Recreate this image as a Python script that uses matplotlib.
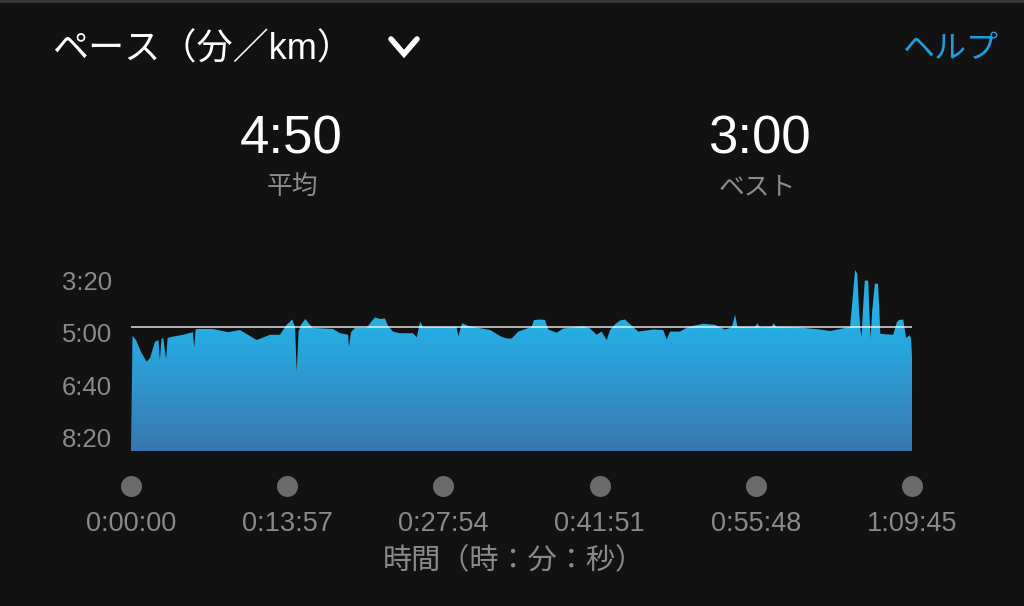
import numpy as np
import matplotlib
matplotlib.use("Agg")
import matplotlib.pyplot as plt
from matplotlib.colors import LinearSegmentedColormap
from matplotlib.patches import Polygon
from matplotlib.lines import Line2D

plt.rcParams['font.family'] = ['Liberation Sans', 'Noto Sans CJK JP']

# elapsed time (s) and pace (s per km)
time_s = [0, 8, 27, 54, 84, 102, 129, 147, 155, 163, 173, 188, 196, 218, 279,
          332, 339, 346, 352, 439, 520, 584, 674, 745, 798, 834, 864, 879, 888,
          898, 911, 934, 959, 975, 1082, 1120, 1163, 1168, 1179, 1200, 1263,
          1281, 1307, 1334, 1361, 1377, 1404, 1441, 1511, 1531, 1549, 1565,
          1656, 1745, 1754, 1774, 1806, 1924, 1986, 2015, 2040, 2075, 2147,
          2159, 2192, 2218, 2236, 2281, 2317, 2424, 2460, 2495, 2522, 2549,
          2567, 2594, 2620, 2647, 2674, 2718, 2799, 2852, 2871, 2888, 2942,
          2986, 3067, 3129, 3183, 3219, 3237, 3250, 3344, 3356, 3370, 3433,
          3442, 3460, 3576, 3692, 3746, 3853, 3866, 3880, 3892, 3901, 3909,
          3915, 3922, 3932, 3950, 3956, 3963, 3972, 3986, 4003, 4010, 4015,
          4039, 4084, 4104, 4115, 4138, 4153, 4174, 4180, 4185]
pace_s = [520, 306, 314, 337, 355, 348, 317, 314, 352, 312, 310, 350, 310, 308,
          304, 299, 329, 295, 293, 293, 299, 295, 314, 304, 304, 285, 275, 289,
          374, 298, 285, 274, 285, 291, 293, 301, 304, 327, 299, 291, 291, 282,
          271, 274, 273, 287, 298, 301, 301, 309, 279, 289, 289, 289, 307, 282,
          287, 295, 308, 311, 311, 298, 289, 276, 275, 276, 294, 300, 292, 288,
          292, 304, 298, 314, 295, 284, 277, 275, 284, 298, 294, 295, 313, 298,
          298, 289, 283, 285, 294, 290, 266, 289, 289, 282, 290, 289, 282, 289,
          290, 294, 297, 289, 238, 181, 188, 257, 295, 308, 257, 201, 201, 257,
          311, 257, 207, 207, 257, 302, 303, 304, 280, 276, 275, 310, 305, 311,
          345]

avg_pace = 290
best_pace = 180
y_ticks = [200, 300, 400, 500]
x_ticks = [0, 837, 1674, 2511, 3348, 4185]


def fmt_pace(s):
    return f"{int(s) // 60}:{int(s) % 60:02d}"


def fmt_time(s):
    return f"{s // 3600}:{s % 3600 // 60:02d}:{s % 60:02d}"


BG = "#121212"
W, H = 1024, 606
fig = plt.figure(figsize=(W / 100, H / 100), dpi=100, facecolor=BG)


def fx(px):
    return px / W


def fy(py):
    return 1 - py / H


ax = fig.add_axes([fx(131), fy(451), fx(912) - fx(131), fy(260) - fy(451)])
ax.set_facecolor(BG)
y_bottom = 524.7
y_top = 162

# gradient fill clipped to the pace profile
verts = [(time_s[0], y_bottom)] + list(zip(time_s, pace_s)) + [(time_s[-1], y_bottom)]
poly = Polygon(verts, closed=True, facecolor='none', edgecolor='none')
ax.add_patch(poly)
cmap = LinearSegmentedColormap.from_list('pace', ['#3977b1', '#26ade3'])
yy = np.linspace(y_bottom, y_top, 300)
grad = np.clip((y_bottom - yy) / (y_bottom - 295), 0, 1).reshape(-1, 1)
im = ax.imshow(grad, cmap=cmap, vmin=0, vmax=1, aspect='auto', origin='lower',
               extent=[0, x_ticks[-1], y_bottom, y_top], interpolation='bilinear')
im.set_clip_path(poly)

ax.axhline(avg_pace, color='white', alpha=0.8, lw=1.2, zorder=3)

ax.set_xlim(0, x_ticks[-1])
ax.set_ylim(y_bottom, y_top)

for s in ax.spines.values():
    s.set_visible(False)

ax.set_yticks(y_ticks, [fmt_pace(v) for v in y_ticks])
ax.tick_params(axis='y', length=0, pad=13.5, labelsize=18.5, labelcolor='#8a8a8a')
ax.set_xticks(x_ticks, [fmt_time(v) for v in x_ticks])
ax.tick_params(axis='x', length=0, pad=43, labelsize=19.5, labelcolor='#8a8a8a')

ax.scatter(x_ticks, [-0.183] * len(x_ticks), transform=ax.get_xaxis_transform(),
           s=228, color='#6b6b6b', linewidths=0, clip_on=False)

ax.set_xlabel('時間（時：分：秒）', fontsize=21, color='#8a8a8a')
ax.xaxis.set_label_coords((514 - 131) / 781, (451 - 547) / 191)

# header
fig.text(fx(52), fy(50), 'ペース（分／km）', color='white', fontsize=26, ha='left', va='center')
fig.add_artist(Line2D([fx(391), fx(404), fx(417)], [fy(39), fy(54), fy(39)],
                      transform=fig.transFigure, color='white', lw=4,
                      solid_capstyle='round', solid_joinstyle='miter'))
fig.text(fx(998), fy(50), 'ヘルプ', color='#1e9ee0', fontsize=23, ha='right', va='center')

fig.text(fx(291), fy(139), fmt_pace(avg_pace), color='white', fontsize=38, ha='center', va='center')
fig.text(fx(292), fy(187), '平均', color='#8c8c8c', fontsize=18.5, ha='center', va='center')
fig.text(fx(759), fy(139), fmt_pace(best_pace), color='white', fontsize=38, ha='center', va='center')
fig.text(fx(757), fy(187), 'ベスト', color='#8c8c8c', fontsize=18.5, ha='center', va='center')

fig.add_artist(Line2D([0, 1], [fy(1), fy(1)], transform=fig.transFigure, color='#3a3a3a', lw=2))

fig.savefig('out.png', dpi=100, facecolor=BG)
